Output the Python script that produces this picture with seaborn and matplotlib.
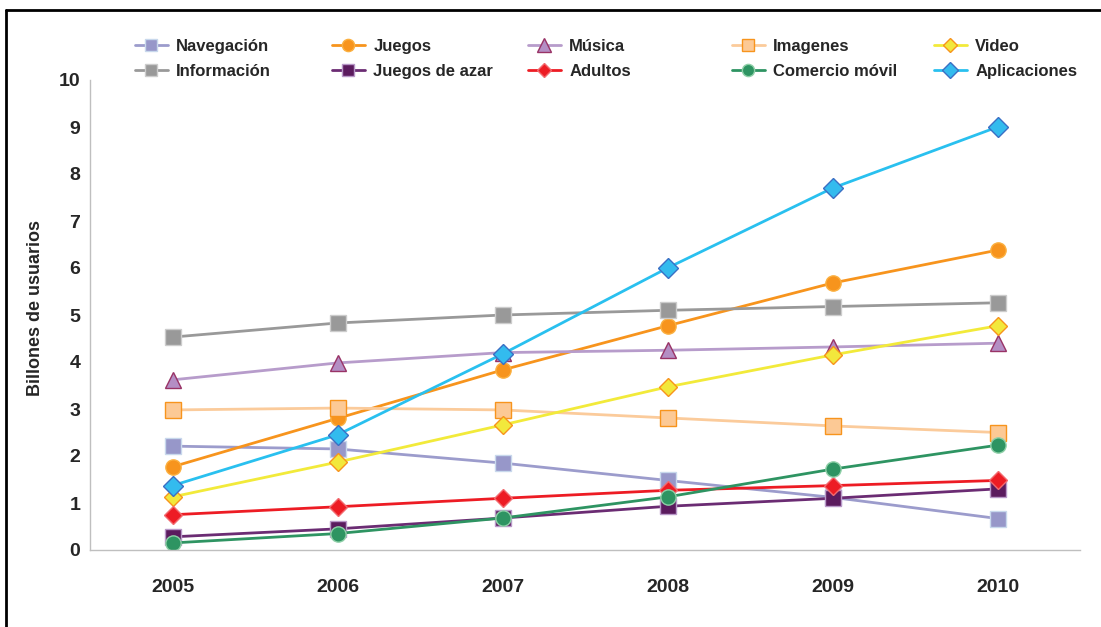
import numpy as np
import pandas as pd
import seaborn as sns
import matplotlib.pyplot as plt
from matplotlib.lines import Line2D

# Data
years = ["2005", "2006", "2007", "2008", "2009", "2010"]
navegacion = [2.21, 2.15, 1.85, 1.48, 1.12, 0.67]
juegos = [1.77, 2.80, 3.83, 4.77, 5.68, 6.38]
musica = [3.62, 3.98, 4.20, 4.25, 4.32, 4.40]
imagenes = [2.98, 3.02, 2.98, 2.81, 2.64, 2.50]
video = [1.13, 1.87, 2.66, 3.47, 4.15, 4.77]
informacion = [4.53, 4.83, 5.00, 5.10, 5.18, 5.26]
juegos_azar = [0.28, 0.45, 0.68, 0.93, 1.10, 1.30]
adultos = [0.75, 0.92, 1.10, 1.27, 1.37, 1.48]
comercio = [0.15, 0.35, 0.68, 1.13, 1.72, 2.23]
aplicaciones = [1.37, 2.45, 4.17, 6.00, 7.70, 9.00]

# name, values, line colour, marker, marker face, marker edge, marker size
series = [
    ("Navegación", navegacion, "#9c9ccc", "s", "#9797c9", "#c8d8ec", 11),
    ("Juegos", juegos, "#f7941d", "o", "#f7941d", "#fbb040", 11),
    ("Música", musica, "#b79ccb", "^", "#b48ec4", "#993366", 12),
    ("Imagenes", imagenes, "#fbcb9b", "s", "#fcc995", "#f7941d", 11),
    ("Video", video, "#f2ea3a", "D", "#f2e83c", "#f7941d", 9),
    ("Información", informacion, "#999999", "s", "#999999", "#cccccc", 11),
    ("Juegos de azar", juegos_azar, "#6b2c73", "s", "#5b1b5e", "#b898c8", 11),
    ("Adultos", adultos, "#ed1c24", "D", "#ed1c24", "#f26a6f", 9),
    ("Comercio móvil", comercio, "#2e9462", "o", "#2e9462", "#8fd0a8", 11),
    ("Aplicaciones", aplicaciones, "#29c0ef", "D", "#33bbee", "#3a6fc4", 10),
]

sns.set_style("white")
plt.rcParams["font.family"] = ["Liberation Sans", "DejaVu Sans"]

fig = plt.figure(figsize=(11.01, 6.27), dpi=100)
ax = fig.add_axes([90 / 1101, 77 / 627, 990 / 1101, 470 / 627])

x = np.arange(len(years))
handles = []
for name, vals, lc, mk, mf, me, ms in series:
    df = pd.DataFrame({"x": x, "y": vals})
    sns.lineplot(data=df, x="x", y="y", ax=ax, color=lc, linewidth=2,
                 marker=mk, markersize=ms, markerfacecolor=mf,
                 markeredgecolor=me, markeredgewidth=1)
    handles.append(Line2D([], [], color=lc, linewidth=2, marker=mk,
                          markersize=ms * 0.8, markerfacecolor=mf,
                          markeredgecolor=me, markeredgewidth=1, label=name))

ax.set_xlim(-0.5, 5.5)
ax.set_ylim(0, 10)
ax.set_xticks(x)
ax.set_xticklabels(years, fontsize=14, fontweight="bold")
ax.set_xticks(np.arange(-0.5, 6.0, 1.0), minor=True)
ax.tick_params(axis="x", which="major", length=0, pad=21)
ax.tick_params(axis="x", which="minor", length=6, color="#bfbfbf", direction="out")
ax.set_yticks(range(0, 11))
ax.set_yticklabels([str(v) for v in range(0, 11)], fontsize=14, fontweight="bold")
ax.tick_params(axis="y", length=6, color="#bfbfbf", direction="out", pad=1)
ax.set_xlabel("")
ax.set_ylabel("Billones de usuarios", fontsize=13, fontweight="bold")
ax.yaxis.set_label_coords(-46 / 990, 0.515)

for side in ["top", "right"]:
    ax.spines[side].set_visible(False)
for side in ["left", "bottom"]:
    ax.spines[side].set_color("#bfbfbf")
    ax.spines[side].set_linewidth(1)

# legend: 5 columns, 2 rows
col_x = [128, 325, 521, 725, 927]
for i, cx in enumerate(col_x):
    fig.legend(handles=[handles[i], handles[i + 5]], loc="upper left",
               bbox_to_anchor=(cx / 1101, 1 - 32 / 627), frameon=False,
               prop={"weight": "bold", "size": 12}, handlelength=2.0,
               handletextpad=0.5, labelspacing=0.6, borderaxespad=0)

# outer frame (top and left edges visible)
fig.add_artist(Line2D([6 / 1101, 1], [1 - 10 / 627, 1 - 10 / 627],
                      color="black", linewidth=2, transform=fig.transFigure))
fig.add_artist(Line2D([6 / 1101, 6 / 1101], [0, 1 - 10 / 627],
                      color="black", linewidth=2, transform=fig.transFigure))

fig.savefig("out.png", dpi=100)
